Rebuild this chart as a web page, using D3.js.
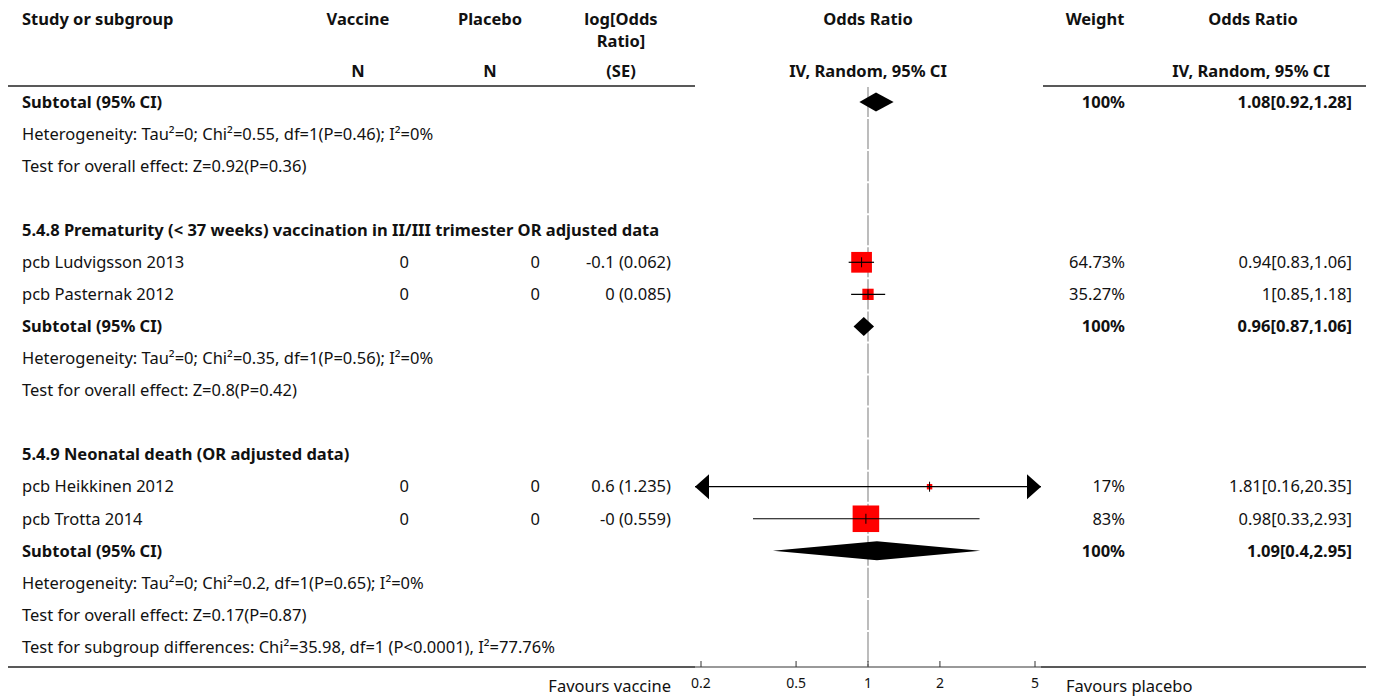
<!DOCTYPE html>
<html>
<head>
<meta charset="utf-8">
<title>Forest plot</title>
<script src="https://cdn.jsdelivr.net/npm/d3@7"></script>
<style>
  * { margin: 0; padding: 0; }
  body { background: #fff; }
  text { font-family: "Source Sans Pro", "Noto Sans", sans-serif; font-size: 16.5px; fill: #111; }
  .b { font-weight: bold; }
</style>
</head>
<body>
<div id="chart"></div>
<script>
// rows of the table, top to bottom (index = row number)
var rowLabels = [
  "Subtotal (95% CI)",
  "Heterogeneity: Tau\u00b2=0; Chi\u00b2=0.55, df=1(P=0.46); I\u00b2=0%",
  "Test for overall effect: Z=0.92(P=0.36)",
  "",
  "5.4.8 Prematurity (< 37 weeks) vaccination in II/III trimester OR adjusted data",
  "pcb Ludvigsson 2013",
  "pcb Pasternak 2012",
  "Subtotal (95% CI)",
  "Heterogeneity: Tau\u00b2=0; Chi\u00b2=0.35, df=1(P=0.56); I\u00b2=0%",
  "Test for overall effect: Z=0.8(P=0.42)",
  "",
  "5.4.9 Neonatal death (OR adjusted data)",
  "pcb Heikkinen 2012",
  "pcb Trotta 2014",
  "Subtotal (95% CI)",
  "Heterogeneity: Tau\u00b2=0; Chi\u00b2=0.2, df=1(P=0.65); I\u00b2=0%",
  "Test for overall effect: Z=0.17(P=0.87)",
  "Test for subgroup differences: Chi\u00b2=35.98, df=1 (P<0.0001), I\u00b2=77.76%"
];
var boldRows = [0, 4, 7, 11, 14];

// individual studies
var studyRows = [5, 6, 12, 13];
var vaccineN = [0, 0, 0, 0];
var placeboN = [0, 0, 0, 0];
var logOrSe = ["-0.1 (0.062)", "0 (0.085)", "0.6 (1.235)", "-0 (0.559)"];
var studyOR = [0.94, 1, 1.81, 0.98];
var studyLo = [0.83, 0.85, 0.16, 0.33];
var studyHi = [1.06, 1.18, 20.35, 2.93];
var studyWeight = [64.73, 35.27, 17, 83];

// subtotals
var subRows = [0, 7, 14];
var subOR = [1.08, 0.96, 1.09];
var subLo = [0.92, 0.87, 0.4];
var subHi = [1.28, 1.06, 2.95];
var subWeight = [100, 100, 100];

var ticks = [0.2, 0.5, 1, 2, 5];

var W = 1375, H = 697;
var svg = d3.select("#chart").append("svg").attr("width", W).attr("height", H);

var x = d3.scaleLog().domain([0.2, 5]).range([701, 1035]);
var xMin = 695, xMax = 1041;
var y = d3.scaleLinear().domain([0, 17]).range([102, 647]);
var rowH = y(1) - y(0);
var boxSize = d3.scaleLinear().domain([0, 100]).range([0, 32]);

function clampX(v) { return Math.max(xMin, Math.min(xMax, x(v))); }

// header
var head = svg.append("g");
function htext(t, xx, yy, anchor) {
  head.append("text").attr("class", "b").attr("x", xx).attr("y", yy).attr("dy", "0.35em")
    .attr("text-anchor", anchor).text(t);
}
htext("Study or subgroup", 22, 19, "start");
htext("Vaccine", 358, 19, "middle");
htext("Placebo", 490, 19, "middle");
htext("log[Odds", 621, 19, "middle");
htext("Ratio]", 621, 41, "middle");
htext("Odds Ratio", 868, 19, "middle");
htext("Weight", 1095, 19, "middle");
htext("Odds Ratio", 1253, 19, "middle");
htext("N", 358, 71, "middle");
htext("N", 490, 71, "middle");
htext("(SE)", 621, 71, "middle");
htext("IV, Random, 95% CI", 868, 71, "middle");
htext("IV, Random, 95% CI", 1251, 71, "middle");

// header rule with gap over plot
svg.append("line").attr("x1", 8).attr("x2", xMin).attr("y1", 86).attr("y2", 86)
  .attr("stroke", "#222").attr("stroke-width", 1.5);
svg.append("line").attr("x1", xMax + 2).attr("x2", 1366).attr("y1", 86).attr("y2", 86)
  .attr("stroke", "#222").attr("stroke-width", 1.5);

// reference line at OR = 1, one segment per row
svg.append("g").selectAll("line").data(rowLabels).enter().append("line")
  .attr("x1", x(1)).attr("x2", x(1))
  .attr("y1", function (d, i) { return y(i) - rowH / 2 + 1; })
  .attr("y2", function (d, i) { return y(i) + rowH / 2 - 1; })
  .attr("stroke", "#999").attr("stroke-width", 1.3);
svg.append("line").attr("x1", x(1)).attr("x2", x(1)).attr("y1", y(17) + rowH / 2 + 1).attr("y2", 667)
  .attr("stroke", "#999").attr("stroke-width", 1.3);

// row labels
svg.append("g").selectAll("text").data(rowLabels).enter().append("text")
  .attr("x", 22).attr("y", function (d, i) { return y(i); }).attr("dy", "0.35em")
  .attr("class", function (d, i) { return boldRows.indexOf(i) >= 0 ? "b" : null; })
  .text(function (d) { return d; });

// study columns
var sg = svg.append("g");
studyRows.forEach(function (r, i) {
  var yy = y(r);
  sg.append("text").attr("x", 409).attr("y", yy).attr("dy", "0.35em").attr("text-anchor", "end").text(vaccineN[i]);
  sg.append("text").attr("x", 540).attr("y", yy).attr("dy", "0.35em").attr("text-anchor", "end").text(placeboN[i]);
  sg.append("text").attr("x", 671).attr("y", yy).attr("dy", "0.35em").attr("text-anchor", "end").text(logOrSe[i]);
  sg.append("text").attr("x", 1125).attr("y", yy).attr("dy", "0.35em").attr("text-anchor", "end").text(studyWeight[i] + "%");
  sg.append("text").attr("x", 1352).attr("y", yy).attr("dy", "0.35em").attr("text-anchor", "end")
    .text(studyOR[i] + "[" + studyLo[i] + "," + studyHi[i] + "]");

  // box
  var s = boxSize(studyWeight[i]);
  sg.append("rect").attr("x", x(studyOR[i]) - s / 2).attr("y", yy - s / 2)
    .attr("width", s).attr("height", s).attr("fill", "#ff0000");
  // CI line
  var x1 = clampX(studyLo[i]), x2 = clampX(studyHi[i]);
  sg.append("line").attr("x1", x1).attr("x2", x2).attr("y1", yy).attr("y2", yy)
    .attr("stroke", "#000").attr("stroke-width", 1.2);
  sg.append("line").attr("x1", x(studyOR[i])).attr("x2", x(studyOR[i]))
    .attr("y1", yy - 5).attr("y2", yy + 5).attr("stroke", "#000").attr("stroke-width", 1);
  // arrows when CI runs off the scale
  if (x(studyLo[i]) < xMin) {
    sg.append("path").attr("d", "M" + xMin + "," + yy + "L" + (xMin + 14) + "," + (yy - 12.5) + "L" + (xMin + 14) + "," + (yy + 12.5) + "Z")
      .attr("fill", "#000");
  }
  if (x(studyHi[i]) > xMax) {
    sg.append("path").attr("d", "M" + xMax + "," + yy + "L" + (xMax - 14) + "," + (yy - 12.5) + "L" + (xMax - 14) + "," + (yy + 12.5) + "Z")
      .attr("fill", "#000");
  }
});

// subtotals
subRows.forEach(function (r, i) {
  var yy = y(r);
  sg.append("text").attr("class", "b").attr("x", 1125).attr("y", yy).attr("dy", "0.35em").attr("text-anchor", "end").text(subWeight[i] + "%");
  sg.append("text").attr("class", "b").attr("x", 1352).attr("y", yy).attr("dy", "0.35em").attr("text-anchor", "end")
    .text(subOR[i] + "[" + subLo[i] + "," + subHi[i] + "]");
  var h = 9.5;
  sg.append("path").attr("d",
    "M" + x(subLo[i]) + "," + yy +
    "L" + x(subOR[i]) + "," + (yy - h) +
    "L" + x(subHi[i]) + "," + yy +
    "L" + x(subOR[i]) + "," + (yy + h) + "Z")
    .attr("fill", "#000");
});

// bottom rule + axis
svg.append("line").attr("x1", 8).attr("x2", 1366).attr("y1", 667).attr("y2", 667)
  .attr("stroke", "#222").attr("stroke-width", 1.5);
svg.append("line").attr("x1", xMin).attr("x2", xMax).attr("y1", 667).attr("y2", 667)
  .attr("stroke", "#999").attr("stroke-width", 2);
var ax = svg.append("g");
ax.selectAll("line.t").data(ticks).enter().append("line")
  .attr("x1", function (d) { return x(d); }).attr("x2", function (d) { return x(d); })
  .attr("y1", 661).attr("y2", 667).attr("stroke", "#333").attr("stroke-width", 1);
ax.selectAll("text").data(ticks).enter().append("text")
  .attr("x", function (d) { return x(d); }).attr("y", 683).attr("dy", "0.35em")
  .attr("text-anchor", "middle").style("font-size", "14px").text(function (d) { return d; });

svg.append("text").attr("x", 671).attr("y", 686).attr("dy", "0.35em").attr("text-anchor", "end").text("Favours vaccine");
svg.append("text").attr("x", 1066).attr("y", 686).attr("dy", "0.35em").text("Favours placebo");
</script>
</body>
</html>
